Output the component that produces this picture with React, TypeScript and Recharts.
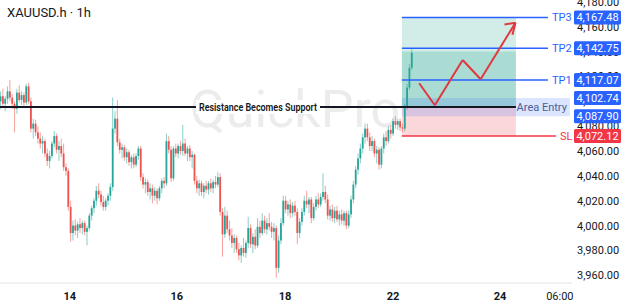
import React from "react";
import {
  ComposedChart,
  Bar,
  XAxis,
  YAxis,
  ReferenceArea,
  ReferenceLine,
} from "recharts";

const TITLE = "XAUUSD.h · 1h";
const WATERMARK = "QuickPro";

// hourly candles, [open, high, low, close]
const ohlc: [number, number, number, number][] = [
  [4100, 4108, 4094, 4104], [4104, 4110, 4096, 4098], [4098, 4104, 4092, 4102], [4102, 4112, 4098, 4108],
  [4108, 4117, 4100, 4103], [4103, 4106, 4094, 4098], [4098, 4100, 4075, 4094], [4094, 4110, 4090, 4107],
  [4107, 4113, 4099, 4101], [4101, 4108, 4097, 4105], [4105, 4107, 4096, 4099], [4099, 4114, 4097, 4112],
  [4112, 4115, 4098, 4100], [4100, 4103, 4075, 4078], [4078, 4086, 4070, 4082], [4082, 4085, 4072, 4075],
  [4075, 4080, 4066, 4070], [4070, 4075, 4062, 4066], [4066, 4072, 4058, 4068], [4068, 4070, 4055, 4058],
  [4058, 4062, 4048, 4052], [4052, 4060, 4046, 4056], [4056, 4068, 4054, 4066], [4066, 4076, 4063, 4072],
  [4072, 4074, 4058, 4061], [4061, 4068, 4052, 4064], [4064, 4070, 4055, 4058], [4058, 4066, 4044, 4047],
  [4047, 4050, 4040, 4044], [4044, 4046, 4012, 4015], [4015, 4020, 3987, 3994], [3994, 4004, 3988, 4000],
  [4000, 4005, 3992, 3996], [3996, 4003, 3990, 4001], [4001, 4006, 3994, 3998], [3998, 4004, 3993, 4002],
  [4002, 4004, 3992, 3995], [3995, 4000, 3984, 3998], [3998, 4010, 3996, 4008], [4008, 4016, 4004, 4014],
  [4014, 4022, 4010, 4020], [4020, 4032, 4016, 4028], [4028, 4034, 4022, 4025], [4025, 4028, 4016, 4019],
  [4019, 4024, 4012, 4015], [4015, 4022, 4012, 4020], [4020, 4026, 4016, 4024], [4024, 4034, 4020, 4031],
  [4031, 4103, 4028, 4078], [4078, 4092, 4074, 4086], [4086, 4101, 4064, 4067], [4067, 4070, 4058, 4061],
  [4061, 4066, 4054, 4063], [4063, 4065, 4052, 4055], [4055, 4062, 4050, 4059], [4059, 4061, 4048, 4051],
  [4051, 4057, 4046, 4055], [4055, 4058, 4046, 4049], [4049, 4058, 4047, 4056], [4056, 4064, 4053, 4062],
  [4062, 4064, 4036, 4039], [4039, 4042, 4030, 4033], [4033, 4038, 4026, 4035], [4035, 4037, 4024, 4027],
  [4027, 4034, 4021, 4030], [4030, 4033, 4018, 4024], [4024, 4031, 4020, 4028], [4028, 4030, 4017, 4022],
  [4022, 4032, 4020, 4030], [4030, 4038, 4026, 4036], [4036, 4039, 4030, 4034], [4034, 4074, 4032, 4068],
  [4068, 4072, 4058, 4061], [4061, 4064, 4035, 4038], [4038, 4064, 4036, 4062], [4062, 4066, 4055, 4058],
  [4058, 4066, 4054, 4064], [4064, 4068, 4057, 4060], [4060, 4081, 4056, 4066], [4066, 4070, 4056, 4058],
  [4058, 4064, 4052, 4062], [4062, 4065, 4052, 4055], [4055, 4060, 4046, 4057], [4057, 4058, 4033, 4036],
  [4036, 4040, 4026, 4030], [4030, 4037, 4024, 4034], [4034, 4036, 4024, 4027], [4027, 4034, 4022, 4032],
  [4032, 4036, 4026, 4029], [4029, 4036, 4025, 4034], [4034, 4038, 4027, 4030], [4030, 4037, 4026, 4035],
  [4035, 4040, 4030, 4033], [4033, 4043, 4031, 4039], [4039, 4042, 4008, 4011], [4011, 4014, 3975, 3993],
  [3993, 4015, 3990, 4008], [4008, 4012, 3994, 3997], [3997, 4004, 3988, 3992], [3992, 3998, 3982, 3986],
  [3986, 3993, 3978, 3990], [3990, 3992, 3978, 3981], [3981, 3986, 3972, 3976], [3976, 3984, 3970, 3982],
  [3982, 3990, 3975, 3978], [3978, 3988, 3974, 3986], [3986, 4007, 3982, 3998], [3998, 4001, 3982, 3985],
  [3985, 3994, 3978, 3991], [3991, 3997, 3981, 3984], [3984, 4006, 3982, 3999], [3999, 4004, 3990, 3994],
  [3994, 4010, 3992, 4004], [4004, 4008, 3994, 3997], [3997, 4006, 3993, 4002], [4002, 4010, 3996, 3999],
  [3999, 4003, 3990, 3995], [3995, 4002, 3988, 3998], [3998, 4000, 3958, 3966], [3966, 3992, 3962, 3988],
  [3988, 4006, 3985, 4002], [4002, 4024, 4000, 4020], [4020, 4024, 4010, 4013], [4013, 4020, 4008, 4017],
  [4017, 4021, 4006, 4010], [4010, 4019, 4007, 4016], [4016, 4020, 4008, 4011], [4011, 4014, 3985, 3994],
  [3994, 4006, 3990, 4003], [4003, 4014, 4000, 4011], [4011, 4024, 4008, 4020], [4020, 4028, 4014, 4017],
  [4017, 4023, 4010, 4021], [4021, 4023, 4002, 4006], [4006, 4018, 4004, 4015], [4015, 4024, 4012, 4021],
  [4021, 4026, 4014, 4017], [4017, 4026, 4015, 4023], [4023, 4042, 4020, 4027], [4027, 4032, 4018, 4021],
  [4021, 4025, 4005, 4008], [4008, 4016, 4004, 4013], [4013, 4017, 4003, 4006], [4006, 4015, 4002, 4012],
  [4012, 4016, 4003, 4005], [4005, 4012, 4000, 4009], [4009, 4013, 4001, 4004], [4004, 4012, 4000, 4010],
  [4010, 4012, 3997, 4000], [4000, 4012, 3998, 4009], [4009, 4024, 4006, 4021], [4021, 4036, 4018, 4033],
  [4033, 4048, 4030, 4045], [4045, 4058, 4041, 4054], [4054, 4066, 4050, 4062], [4062, 4074, 4058, 4071],
  [4071, 4082, 4066, 4078], [4078, 4082, 4068, 4071], [4071, 4075, 4060, 4064], [4064, 4072, 4060, 4068],
  [4068, 4070, 4055, 4058], [4058, 4064, 4050, 4061], [4061, 4063, 4045, 4049], [4049, 4064, 4046, 4062],
  [4062, 4074, 4058, 4071], [4071, 4076, 4064, 4068], [4068, 4080, 4066, 4077], [4077, 4081, 4070, 4074],
  [4074, 4086, 4072, 4084], [4084, 4088, 4078, 4081], [4081, 4086, 4077, 4084], [4084, 4086, 4076, 4079],
  [4079, 4082, 4075, 4078], [4078, 4098, 4076, 4095], [4095, 4114, 4093, 4111], [4111, 4130, 4109, 4127],
  [4127, 4142, 4125, 4139],
];

// x axis: candle index positions of the date labels
const dateTickPos = [29.6, 75.4, 121.7, 167.9, 213.7, 239.3];
const dateTickLabels = ["14", "16", "18", "22", "24", "06:00"];
const priceTicks = [3960, 3980, 4000, 4020, 4040, 4060, 4080, 4100, 4120, 4140, 4160, 4180];

// trade setup
const targetNames = ["TP3", "TP2", "TP1"];
const targetPrices = [4167.48, 4142.75, 4117.07];
const stopLoss = 4072.12;
const entryHigh = 4102.74;
const entryLow = 4087.9;
const supportLevel = 4095.4;
const lastHigh = 4140;
// in candle-index units
const setupStart = 171.7;
const setupEnd = 220.5;
const targetLineEnd = 234.2;
const stopLineEnd = 237.6;
const entryBandEnd = 243.6;
// projected path (index, price)
const arrowPath: [number, number][] = [
  [179.1, 4114.5],
  [185.8, 4096.8],
  [197.7, 4133.2],
  [205.4, 4117.7],
  [220.3, 4163.2],
];
const arrowWings: [number, number][] = [
  [215.6, 4161.8],
  [219.0, 4153.6],
];

const data = ohlc.map(([o, h, l, c], i) => ({ i, o, h, l, c, range: [l, h] }));

const FONT = "Roboto, 'Noto Sans', sans-serif";
const BLUE = "#2962ff";
const RED = "#f23645";
const UP = "#26a69a";
const DOWN = "#ef5350";

const fmt = (v: number) =>
  v.toLocaleString("en-US", { minimumFractionDigits: 2, maximumFractionDigits: 2 });

const Candle = (props: any) => {
  const { x, y, width, height, payload } = props;
  if (!payload) return null;
  const { o, h, l, c } = payload;
  const color = c >= o ? UP : DOWN;
  const cx = x + width / 2;
  const k = h === l ? 0 : height / (h - l);
  const top = y + (h - Math.max(o, c)) * k;
  const bot = y + (h - Math.min(o, c)) * k;
  return (
    <g>
      <line x1={cx} x2={cx} y1={y} y2={y + height} stroke={color} strokeOpacity={0.55} strokeWidth={1} />
      <rect x={cx - 0.9} y={top} width={1.8} height={Math.max(bot - top, 0.8)} fill={color} />
    </g>
  );
};

const PriceTag = ({ viewBox, value, color, tag }: any) => {
  const { x, y, width } = viewBox;
  return (
    <g fontFamily={FONT} fontSize={11}>
      {tag && (
        <text x={x + width + 4} y={y + 4} fill={color}>
          {tag} -
        </text>
      )}
      <rect x={574} y={y - 7} width={47} height={14} rx={1.5} fill={color} />
      <text x={597.5} y={y + 4} fill="#fff" textAnchor="middle">
        {value}
      </text>
    </g>
  );
};

// y-axis labels, drawn as reference-line labels so the price tags can sit on top
const PriceTickLabel = ({ viewBox, value }: any) => (
  <text x={577} y={viewBox.y + 4} fontFamily={FONT} fontSize={11} fill="#131722">
    {value}
  </text>
);

const SupportLabel = ({ viewBox }: any) => {
  const cx = viewBox.x + viewBox.width / 2;
  const y = viewBox.y;
  return (
    <g>
      <rect x={cx - 62} y={y - 7} width={124} height={14} fill="#fff" />
      <text
        x={cx}
        y={y + 3.5}
        textAnchor="middle"
        fontFamily={FONT}
        fontSize={10}
        fontWeight={600}
        fill="#131722"
        textLength={118}
        lengthAdjust="spacingAndGlyphs"
      >
        Resistance Becomes Support
      </text>
    </g>
  );
};

const EntryLabel = ({ viewBox }: any) => (
  <text
    x={viewBox.x + viewBox.width - 3}
    y={viewBox.y + viewBox.height / 2 + 4}
    textAnchor="end"
    fontFamily={FONT}
    fontSize={11}
    fill="#4a5f94"
  >
    Area Entry
  </text>
);

const DateTick = ({ x, y, index }: any) => {
  const label = dateTickLabels[index];
  return (
    <text
      x={x}
      y={y + 9}
      textAnchor="middle"
      fontFamily={FONT}
      fontSize={11}
      fontWeight={label.includes(":") ? 400 : 700}
      fill="#131722"
    >
      {label}
    </text>
  );
};

export default function App() {
  const arrowSegs = arrowPath.slice(1).map((p, k) => [arrowPath[k], p]);
  const tip = arrowPath[arrowPath.length - 1];
  return (
    <div style={{ position: "absolute", left: 0, top: 0, width: 624, height: 306, background: "#fff" }}>
      <div
        style={{
          position: "absolute",
          left: 190,
          top: 80,
          fontFamily: FONT,
          fontSize: 52,
          color: "#ececec",
          lineHeight: "60px",
        }}
      >
        {WATERMARK}
      </div>
      <div
        style={{
          position: "absolute",
          left: 7,
          top: 5,
          fontFamily: FONT,
          fontSize: 13,
          color: "#131722",
        }}
      >
        {TITLE}
      </div>
      <div style={{ position: "absolute", left: 0, top: 0 }}>
        <ComposedChart width={624} height={306} data={data} margin={{ top: 0, right: 0, bottom: 0, left: 0 }}>
          <XAxis
            type="number"
            dataKey="i"
            domain={[-0.3, 244.5]}
            allowDataOverflow
            ticks={dateTickPos}
            interval={0}
            height={23}
            tickLine={false}
            axisLine={{ stroke: "#e0e3eb" }}
            tick={<DateTick />}
          />
          <YAxis
            orientation="right"
            domain={[3953.8, 4181.5]}
            allowDataOverflow
            ticks={priceTicks}
            width={52}
            tickLine={false}
            axisLine={false}
            tick={false}
          />
          <ReferenceArea x1={setupStart} x2={setupEnd} y1={supportLevel} y2={targetPrices[0]} fill="#089981" fillOpacity={0.18} stroke="none" />
          <ReferenceArea x1={setupStart} x2={setupEnd} y1={supportLevel} y2={lastHigh} fill="#089981" fillOpacity={0.2} stroke="none" />
          <ReferenceArea x1={setupStart} x2={setupEnd} y1={stopLoss} y2={supportLevel} fill={RED} fillOpacity={0.2} stroke="none" />
          <ReferenceArea
            x1={setupStart}
            x2={entryBandEnd}
            y1={entryLow}
            y2={entryHigh}
            fill={BLUE}
            fillOpacity={0.17}
            stroke="none"
            label={<EntryLabel />}
          />
          <Bar dataKey="range" barSize={2} shape={<Candle />} isAnimationActive={false} />
          {priceTicks.map((p) => (
            <ReferenceLine key={"tick" + p} y={p} stroke="none" label={<PriceTickLabel value={fmt(p)} />} />
          ))}
          <ReferenceLine
            segment={[{ x: -0.3, y: supportLevel }, { x: setupEnd, y: supportLevel }]}
            stroke="#131722"
            strokeWidth={2}
            label={<SupportLabel />}
          />
          {targetPrices.map((p, k) => (
            <ReferenceLine
              key={targetNames[k]}
              segment={[{ x: setupStart, y: p }, { x: targetLineEnd, y: p }]}
              stroke={BLUE}
              strokeWidth={1.5}
              label={<PriceTag value={fmt(p)} color={BLUE} tag={targetNames[k]} />}
            />
          ))}
          <ReferenceLine
            segment={[{ x: setupStart, y: stopLoss }, { x: stopLineEnd, y: stopLoss }]}
            stroke={RED}
            strokeWidth={1.5}
            label={<PriceTag value={fmt(stopLoss)} color={RED} tag="SL" />}
          />
          <ReferenceLine y={entryHigh} stroke="none" label={<PriceTag value={fmt(entryHigh)} color={BLUE} />} />
          <ReferenceLine y={entryLow} stroke="none" label={<PriceTag value={fmt(entryLow)} color={BLUE} />} />
          {arrowSegs.map(([a, b], k) => (
            <ReferenceLine
              key={"arrow" + k}
              segment={[{ x: a[0], y: a[1] }, { x: b[0], y: b[1] }]}
              stroke="#e0383e"
              strokeWidth={2}
            />
          ))}
          {arrowWings.map((w, k) => (
            <ReferenceLine
              key={"wing" + k}
              segment={[{ x: w[0], y: w[1] }, { x: tip[0], y: tip[1] }]}
              stroke="#e0383e"
              strokeWidth={2}
            />
          ))}
        </ComposedChart>
      </div>
    </div>
  );
}
